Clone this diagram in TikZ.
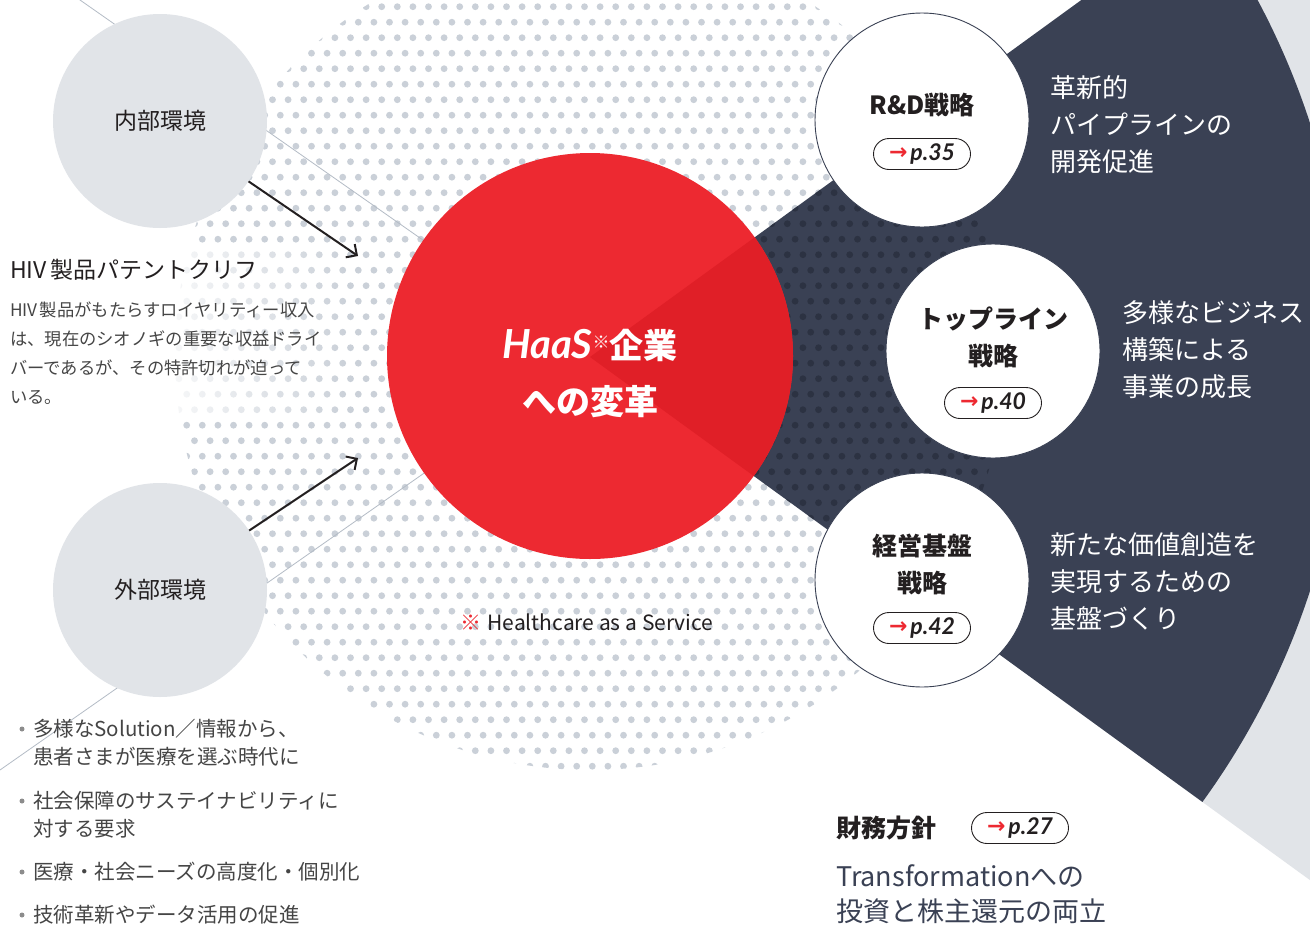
\documentclass[tikz,border=0pt]{standalone}
\usepackage{fontspec}
\setmainfont{Noto Sans CJK JP}
\newfontfamily\lat{Lato}
\newfontfamily\dvs{DejaVu Sans}
\usetikzlibrary{fadings,arrows.meta}
\definecolor{hred}{HTML}{ED2931}
\definecolor{hredd}{HTML}{E01F27}
\definecolor{navy}{HTML}{3A4154}
\definecolor{navyd}{HTML}{2C3242}
\definecolor{lgray}{HTML}{E1E4E8}
\definecolor{dotc}{HTML}{CAD0D8}
\definecolor{linec}{HTML}{B4BCC6}
\definecolor{ink}{HTML}{231F20}
\definecolor{txtg}{HTML}{454545}
\definecolor{bulg}{HTML}{8C8C8C}
\tikzfading[name=fadeR, left color=transparent!12, right color=transparent!100]
\newcommand\myfs[2]{\fontsize{#1}{#2}\selectfont}
\newcommand\parr{\textcolor{hred}{\dvs\bfseries\upshape\myfs{22}{22}\raisebox{1pt}{→}}\hspace{3pt}}
\begin{document}
\begin{tikzpicture}[x=1pt,y=-1pt,
  envc/.style={circle, fill=lgray, minimum size=214pt, inner sep=0pt, font=\myfs{23}{23}, text=ink},
  stratc/.style={circle, fill=white, draw=navy, line width=0.9pt, minimum size=214pt, inner sep=0pt},
  stitle/.style={font=\bfseries\myfs{25}{37}, text=ink, align=center, inner sep=0pt},
  pill/.style={draw=ink, line width=0.9pt, fill=white, rounded corners=15.5pt, minimum width=97pt, minimum height=31pt, inner sep=0pt, font=\lat\bfseries\itshape\myfs{23}{23}, text=ink},
  wtext/.style={text=white, font=\myfs{26}{37}, align=left, anchor=west, inner sep=0pt},
  btext/.style={text=txtg, font=\myfs{20.5}{28}, align=left, anchor=west, inner sep=0pt},
  bul/.style={circle, fill=bulg, minimum size=5pt, inner sep=0pt},
  gline/.style={draw=linec, line width=0.8pt},
  arr/.style={draw=ink, line width=2pt, -{Straight Barb[length=8pt,width=16pt,line width=2pt]}},
  htext/.style={text=white, font=\bfseries\myfs{34}{34}, inner sep=0pt}
]
\useasboundingbox (0,0) rectangle (1310,927);
\clip (0,0) rectangle (1310,927);
\fill[white] (0,0) rectangle (1310,927);
\coordinate (apex) at (590,357);
% dotted disc
\begin{scope}
\clip (590,355) circle[radius=415];
\foreach \j in {0,...,49}{
  \pgfmathsetmacro\yy{6.7+15.5*\j}
  \pgfmathsetmacro\xo{163.3+7.8*mod(\j,2)}
  \fill[dotc] \foreach \i in {0,...,54}{(\xo+15.6*\i,\yy) circle[radius=3.4]};
}
\end{scope}
% sectors
\fill[lgray] (apex) -- ++(-36:1600) arc[start angle=-36, end angle=36, radius=1600] -- cycle;
\fill[navy] (apex) -- ++(-36:757) arc[start angle=-36, end angle=36, radius=757] -- cycle;
% darker dots inside the sector
\begin{scope}
\clip (apex) -- ++(-36:900) -- ++(0,1058) -- cycle;
\clip (590,355) circle[radius=415];
\foreach \j in {0,...,49}{
  \pgfmathsetmacro\yy{6.7+15.5*\j}
  \pgfmathsetmacro\xo{163.3+7.8*mod(\j,2)}
  \fill[navyd] \foreach \i in {26,...,54}{(\xo+15.6*\i,\yy) circle[radius=3.4]};
}
\end{scope}
% thin lines
\coordinate (ul) at (0,-56);
\coordinate (ll) at (0,770);
\draw[gline] (apex) -- (ul);
\draw[gline] (apex) -- (ll);
% fade behind the left text
\fill[white, path fading=fadeR] (165,250) rectangle (350,415);
% environment circles
\node[envc] (naibu) at (160,121) {内部環境};
\node[envc] (gaibu) at (160,590) {外部環境};
% red circle
\node[circle, fill=hred, minimum size=406pt, inner sep=0pt] (haas) at (590,356) {};
\begin{scope}
\clip (apex) -- ++(-36:900) -- ++(0,1058) -- cycle;
\fill[hredd] (590,356) circle[radius=203];
\end{scope}
\node[htext] (h1) at (590,345) {{\lat\bfseries\itshape\myfs{40}{40}HaaS}\raisebox{10pt}{\mdseries\myfs{17}{17}※}企業};
\node[htext] (h2) at (590,402) {への変革};
% strategy circles
\node[stratc] (rd) at (922,120) {};
\node[stitle] (rdt) at (922,105) {R\&D戦略};
\node[pill] (p35) at (922,154) {\parr p.35};
\node[stratc] (top) at (993,351) {};
\node[stitle] (topt) at (993,337) {トップライン\\戦略};
\node[pill] (p40) at (993,403) {\parr p.40};
\node[stratc] (kei) at (922,580) {};
\node[stitle] (keit) at (922,564) {経営基盤\\戦略};
\node[pill] (p42) at (922,628) {\parr p.42};
% white texts
\node[wtext] (w1) at (1050,125) {革新的\\パイプラインの\\開発促進};
\node[wtext] (w2) at (1122,350) {多様なビジネス\\構築による\\事業の成長};
\node[wtext] (w3) at (1050,581) {新たな価値創造を\\実現するための\\基盤づくり};
% note
\node[font=\myfs{21}{21}, text=ink, inner sep=1pt] (note) at (587,622) {\textcolor{hred}{※}\hspace{6pt}Healthcare as a Service};
% arrows
\coordinate (t1) at (358,256);
\coordinate (t2) at (358,458);
\draw[arr] (naibu) -- (t1);
\draw[arr] (gaibu) -- (t2);
% left texts
\node[anchor=west, inner sep=0pt, font=\myfs{23}{23}, text=ink] (hiv) at (10,270) {HIV\hspace{4pt}製品パテントクリフ};
\node[anchor=west, inner sep=0pt, font=\myfs{17.3}{29}, text=txtg, align=left] (hivp) at (10,353.5) {HIV\hspace{2pt}製品がもたらすロイヤリティー収入\\は、現在のシオノギの重要な収益ドライ\\バーであるが、その特許切れが迫って\\いる。};
% bullets
\node[bul] (b1) at (22,729) {};
\node[btext] (i1) at (33,743) {多様なSolution／情報から、\\患者さまが医療を選ぶ時代に};
\node[bul] (b2) at (22,801) {};
\node[btext] (i2) at (33,815) {社会保障のサステイナビリティに\\対する要求};
\node[bul] (b3) at (22,872) {};
\node[btext] (i3) at (33,872) {医療・社会ニーズの高度化・個別化};
\node[bul] (b4) at (22,915) {};
\node[btext] (i4) at (33,915) {技術革新やデータ活用の促進};
% finance
\node[anchor=west, inner sep=0pt, font=\bfseries\myfs{25}{25}, text=ink] (fin) at (836,828) {財務方針};
\node[pill] (p27) at (1020,828) {\parr p.27};
\node[anchor=west, inner sep=0pt, font=\myfs{27}{35}, text=navy, align=left] (trans) at (836,894.5) {Transformationへの\\投資と株主還元の両立};
\end{tikzpicture}
\end{document}
